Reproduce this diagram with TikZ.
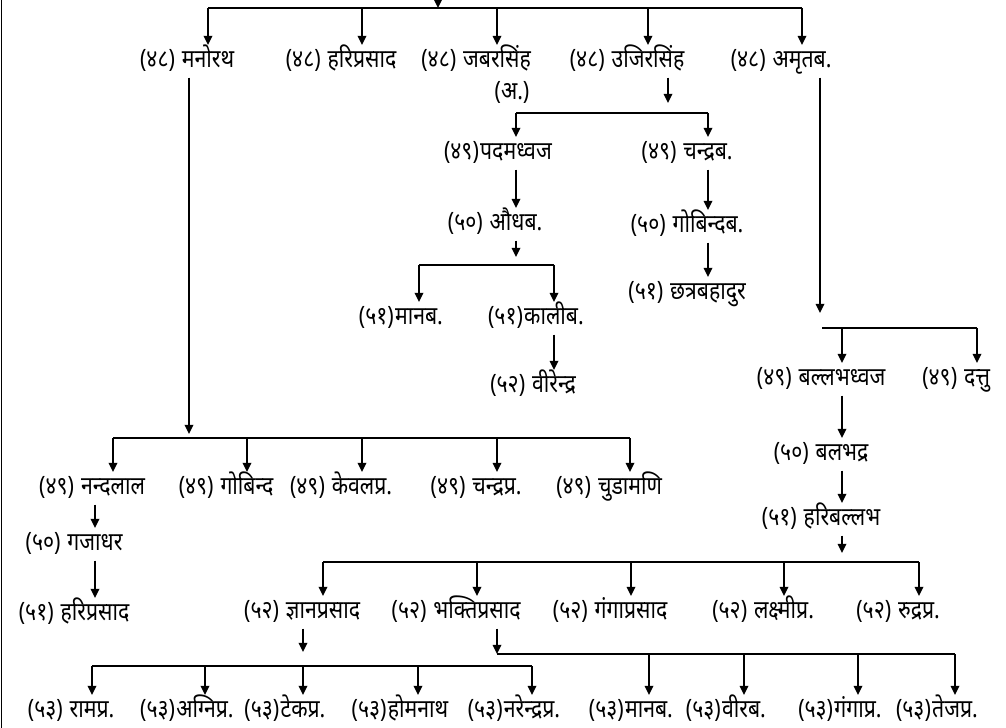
\documentclass[tikz,border=0pt]{standalone}
\usepackage{fontspec}
\newfontfamily\dev[Script=Devanagari, FakeStretch=0.84]{Noto Sans}
\usetikzlibrary{arrows.meta, positioning}

\begin{document}
\begin{tikzpicture}[
			x=0.025cm, y=-0.025cm,
			font=\dev\fontsize{18}{21}\selectfont,
			person/.style={anchor=north, inner sep=0pt, text height=0.55cm, text depth=0.25cm},
			nb/.style={anchor=base east, inner sep=0pt},
			num/.style={nb, xshift=-4.5pt},
			numt/.style={nb, xshift=-0.5pt},
			conn/.style={draw=black, line width=1.35pt},
			arr/.style={conn, -{Triangle[length=6.5pt, width=6pt]}}
			]
			\useasboundingbox (0,0) rectangle (1006,728);
			\draw[conn] (1.5,0) -- (1.5,728);
			\coordinate (root) at (438,0);
			\coordinate (b48) at (438,8);
			\foreach \n/\x/\t in {manor/208/मनोरथ, hari48/362/हरिप्रसाद, jabar/497/जबरसिंह, ujir/648/उजिरसिंह, amrit/802/अमृतब.}{
				\node[person, label={[num]base west:(४८)}] (\n) at (\x,45) {\t};
				\draw[arr] (\n.north |- b48) -- (\n.north);
			}
			\node (jabarA) at (512,92) {(अ.)};
			\draw[arr] (root) -- (b48);
			\draw[conn] (manor.north |- b48) -- (amrit.north |- b48);
			% ujir
			\coordinate (ujir-t) at (668,103);
			\coordinate (ujir-b) at (668,113);
			\draw[arr] (ujir.south -| ujir-t) -- (ujir-t);
			\node[person, label={[numt]base west:(४९)}] (padma) at (516,137) {पदमध्वज};
			\node[person, label={[num]base west:(४९)}] (chandrab) at (708,137) {चन्द्रब.};
			\draw[conn] (padma.north |- ujir-b) -- (chandrab.north |- ujir-b);
			\foreach \n in {padma, chandrab}
				\draw[arr] (\n.north |- ujir-b) -- (\n.north);
			\node[person, label={[num]base west:(५०)}] (audh) at (516,208) {औधब.};
			\draw[arr] (padma.south) -- (audh.north);
			\coordinate (audh-t) at (516,257);
			\coordinate (audh-b) at (516,265);
			\draw[arr] (audh.south) -- (audh-t);
			\node[person, label={[numt]base west:(५१)}] (manab51) at (419,302) {मानब.};
			\node[person, label={[numt]base west:(५१)}] (kalib) at (554,302) {कालीब.};
			\draw[conn] (manab51.north |- audh-b) -- (kalib.north |- audh-b);
			\foreach \n in {manab51, kalib}
				\draw[arr] (\n.north |- audh-b) -- (\n.north);
			\node[person, label={[num]base west:(५२)}] (virendra) at (554,370) {वीरेन्द्र};
			\draw[arr] (kalib.south) -- (virendra.north);
			\node[person, label={[num]base west:(५०)}] (gobindab) at (708,210) {गोबिन्दब.};
			\node[person, label={[num]base west:(५१)}] (chhatra) at (708,277) {छत्रबहादुर};
			\draw[arr] (chandrab.south) -- (gobindab.north);
			\draw[arr] (gobindab.south) -- (chhatra.north);
			% amrit
			\coordinate (amrit-t) at (820,313);
			\coordinate (amrit-b) at (822,328);
			\draw[arr] (amrit.south -| amrit-t) -- (amrit-t);
			\node[person, label={[num]base west:(४९)}] (ballabh) at (842,363) {बल्लभध्वज};
			\node[person, label={[num]base west:(४९)}] (dattu) at (977,363) {दत्तु};
			\draw[conn] (amrit-b) -- (dattu.north |- amrit-b);
			\foreach \n in {ballabh, dattu}
				\draw[arr] (\n.north |- amrit-b) -- (\n.north);
			\node[person, label={[num]base west:(५०)}] (balbhadra) at (842,438) {बलभद्र};
			\node[person, label={[num]base west:(५१)}] (haribal) at (842,503) {हरिबल्लभ};
			\draw[arr] (ballabh.south) -- (balbhadra.north);
			\draw[arr] (balbhadra.south) -- (haribal.north);
			\coordinate (haribal-t) at (842,553);
			\coordinate (haribal-b) at (842,562);
			\draw[arr] (haribal.south) -- (haribal-t);
			\foreach \n/\x/\t in {gyan/323/ज्ञानप्रसाद, bhakti/477/भक्तिप्रसाद, ganga52/631/गंगाप्रसाद, lakshmi/784/लक्ष्मीप्र., rudra/919/रुद्रप्र.}{
				\node[person, label={[num]base west:(५२)}] (\n) at (\x,596) {\t};
				\draw[arr] (\n.north |- haribal-b) -- (\n.north);
			}
			\draw[conn] (gyan.north |- haribal-b) -- (rudra.north |- haribal-b);
			% gyan, bhakti
			\coordinate (gyan-t) at (303,652);
			\coordinate (gyan-b) at (303,666);
			\draw[arr] (gyan.south -| gyan-t) -- (gyan-t);
			\coordinate (bhakti-t) at (497,654);
			\draw[arr] (bhakti.south -| bhakti-t) -- (bhakti-t);
			\node[person, label={[num]base west:(५३)}] (ram) at (92,695) {रामप्र.};
			\foreach \n/\x/\t in {agni/205/अग्निप्र., tek/303/टेकप्र., hom/418/होमनाथ, narendra/532/नरेन्द्रप्र.}
				\node[person, label={[numt]base west:(५३)}] (\n) at (\x,695) {\t};
			\draw[conn] (ram.north |- gyan-b) -- (narendra.north |- gyan-b);
			\foreach \n in {ram, agni, tek, hom, narendra}
				\draw[arr] (\n.north |- gyan-b) -- (\n.north);
			\foreach \n/\x/\t in {manab53/649/मानब., virab/744/वीरब., gangap/858/गंगाप्र., tejap/955/तेजप्र.}{
				\node[person, label={[numt]base west:(५३)}] (\n) at (\x,695) {\t};
				\draw[arr] (\n.north |- bhakti-t) -- (\n.north);
			}
			\draw[conn] (bhakti-t) -- (tejap.north |- bhakti-t);
			% manor
			\coordinate (manor-t) at (189,434);
			\coordinate (manor-b) at (189,438);
			\draw[arr] (manor.south -| manor-t) -- (manor-t);
			\foreach \n/\x/\t in {nanda/113/नन्दलाल, gobinda/247/गोबिन्द, keval/362/केवलप्र., chandrap/497/चन्द्रप्र., chuda/630/चुडामणि}{
				\node[person, label={[num]base west:(४९)}] (\n) at (\x,472) {\t};
				\draw[arr] (\n.north |- manor-b) -- (\n.north);
			}
			\draw[conn] (nanda.north |- manor-b) -- (chuda.north |- manor-b);
			\node[person, label={[num]base west:(५०)}] (gajadhar) at (95,528) {गजाधर};
			\node[person, label={[num]base west:(५१)}] (hari51) at (95,598) {हरिप्रसाद};
			\draw[arr] (nanda.south -| gajadhar) -- (gajadhar.north);
			\draw[arr] (gajadhar.south) -- (hari51.north);
		\end{tikzpicture}
\end{document}
